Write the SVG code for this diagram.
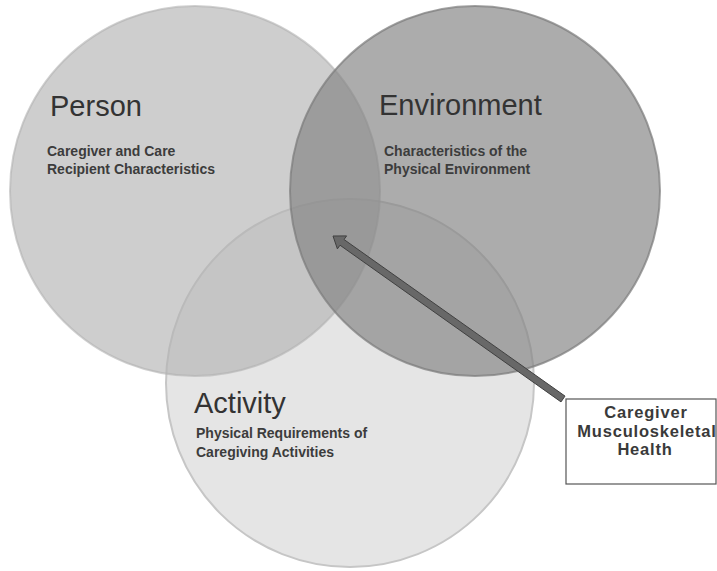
<svg xmlns="http://www.w3.org/2000/svg" width="717" height="571" viewBox="0 0 717 571">
  <style>
    .title { font-family: "Liberation Sans", Arial, sans-serif; font-size: 29px; fill: #333333; }
    .sub { font-family: "Liberation Sans", Arial, sans-serif; font-size: 14px; font-weight: bold; fill: #3c3c3c; }
    .boxtext { font-family: "Liberation Sans", Arial, sans-serif; font-size: 16.5px; font-weight: bold; fill: #3a3a3a; letter-spacing: 0.8px; text-anchor: middle; }
  </style>
  <rect width="717" height="571" fill="#ffffff"/>

  <!-- Activity circle (bottom layer) -->
  <g id="activity">
    <circle cx="350" cy="383" r="184" fill="#e5e5e5" stroke="#c6c6c6" stroke-width="2"/>
  </g>

  <!-- Person circle (translucent) -->
  <g id="person">
    <circle cx="195" cy="191" r="185" fill="#b3b3b3" fill-opacity="0.65" stroke="#b0b0b0" stroke-opacity="0.6" stroke-width="2"/>
  </g>

  <!-- Environment circle (translucent, top) -->
  <g id="environment">
    <circle cx="475" cy="191" r="185" fill="#858585" fill-opacity="0.68" stroke="#7a7a7a" stroke-opacity="0.7" stroke-width="2"/>
  </g>

  <!-- Labels -->
  <g id="person-label">
    <text class="title" x="50" y="116">Person</text>
    <text class="sub" x="47" y="156">Caregiver and Care</text>
    <text class="sub" x="47" y="174">Recipient Characteristics</text>
  </g>
  <g id="environment-label">
    <text class="title" x="379" y="115">Environment</text>
    <text class="sub" x="384" y="156">Characteristics of the</text>
    <text class="sub" x="384" y="174">Physical Environment</text>
  </g>
  <g id="activity-label">
    <text class="title" x="194" y="413">Activity</text>
    <text class="sub" x="196" y="438">Physical Requirements of</text>
    <text class="sub" x="196" y="457">Caregiving Activities</text>
  </g>

  <!-- Outcome box -->
  <g id="health">
    <rect x="566" y="399" width="150" height="85" fill="#ffffff" stroke="#555555" stroke-width="1.2"/>
    <text class="boxtext" x="646" y="418">Caregiver</text>
    <text class="boxtext" x="647" y="437">Musculoskeletal</text>
    <text class="boxtext" x="645" y="455">Health</text>
  </g>

  <!-- Connector: block arrow from box into the three-way overlap -->
  <g id="connectors">
    <polygon points="333,236 346.6,235.9 344.0,239.5 565.0,396.1 561.0,401.9 340.0,245.2 337.4,248.9" fill="#686868" stroke="#404040" stroke-width="1" stroke-linejoin="miter"/>
  </g>
</svg>
